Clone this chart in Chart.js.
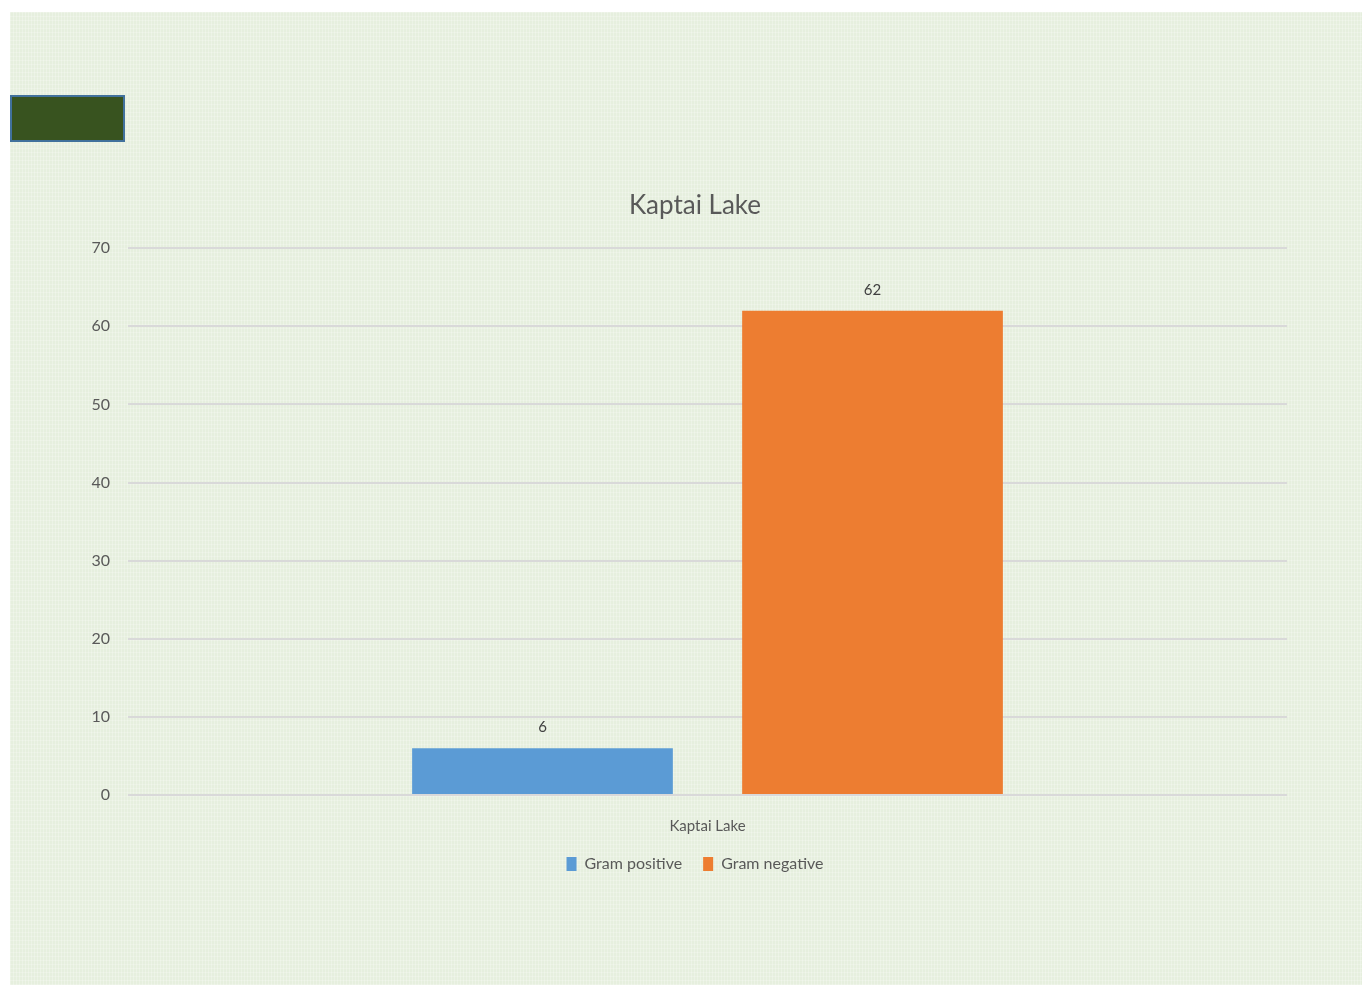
<!DOCTYPE html>
<html>
<head>
<meta charset="utf-8">
<script src="https://cdn.jsdelivr.net/npm/chart.js"></script>
<style>
  body { margin: 0; background: #ffffff; overflow: hidden; }
  #panel {
    position: absolute; left: 10px; top: 12px; width: 1352px; height: 973px;
    background-color: #e6efde;
    background-image:
      repeating-linear-gradient(90deg, rgba(255,255,255,0.25) 0 1px, transparent 1px 3px),
      repeating-linear-gradient(0deg, rgba(255,255,255,0.2) 0 1px, transparent 1px 4px);
  }
  #badge {
    position: absolute; left: 10px; top: 95px; width: 111px; height: 43px;
    background: #38531f; border: 2px solid #41719c;
  }
  #kaptaiChart { position: absolute; left: 0; top: 0; }
</style>
</head>
<body>
<div id="panel"></div>
<div id="badge"></div>
<canvas id="kaptaiChart" width="1390" height="985"></canvas>
<script>
const categories = ['Kaptai Lake']
const gramPositive = [6]
const gramNegative = [62]
const yMin = 0
const yMax = 70
const yStep = 10

// values above each bar
const barLabels = {
    id: 'barLabels',
    afterDatasetsDraw(chart) {
        const ctx = chart.ctx
        ctx.save()
        ctx.font = '15px Lato'
        ctx.fillStyle = '#404040'
        ctx.textAlign = 'center'
        ctx.textBaseline = 'middle'
        chart.data.datasets.forEach((ds, i) => {
            chart.getDatasetMeta(i).data.forEach((bar, j) => {
                ctx.fillText(ds.data[j], bar.x, bar.y - 21)
            })
        })
        ctx.restore()
    }
}

var ctx = document.getElementById('kaptaiChart').getContext('2d')
var chart = new Chart(ctx, {
    type: 'bar',
    data: {
        labels: categories,
        datasets: [{
            label: 'Gram positive',
            data: gramPositive,
            backgroundColor: '#5b9bd5'
        }, {
            label: 'Gram negative',
            data: gramNegative,
            backgroundColor: '#ed7d31'
        }]
    },
    options: {
        responsive: false,
        animation: false,
        categoryPercentage: 0.5695,
        barPercentage: 0.79,
        layout: { padding: { left: 0, right: 0, top: 0, bottom: 103 } },
        scales: {
            x: {
                afterFit: s => { s.height = 40 },
                grid: { display: false },
                border: { display: false },
                ticks: { color: '#595959', font: { family: 'Lato', size: 15 }, padding: 14 }
            },
            y: {
                min: yMin,
                max: yMax,
                afterFit: s => { s.width = 128 },
                grid: { color: '#d9d9d9', lineWidth: 2, drawTicks: false },
                border: { display: false },
                ticks: { stepSize: yStep, color: '#595959', font: { family: 'Lato', size: 16 }, padding: 18 }
            },
            // empty right margin so title and legend sit where the original has them
            yRight: {
                position: 'right',
                min: yMin,
                max: yMax,
                afterFit: s => { s.width = 103 },
                grid: { display: false },
                border: { display: false },
                ticks: { display: false }
            }
        },
        plugins: {
            title: {
                display: true,
                text: 'Kaptai Lake',
                color: '#595959',
                font: { family: 'Lato', size: 26, weight: 'normal' },
                padding: { top: 190, bottom: 27 }
            },
            legend: {
                position: 'bottom',
                labels: {
                    color: '#595959',
                    font: { family: 'Lato', size: 16 },
                    boxWidth: 10,
                    boxHeight: 14,
                    padding: 21
                }
            },
            tooltip: { enabled: false }
        }
    },
    plugins: [barLabels]
})
</script>
</body>
</html>
